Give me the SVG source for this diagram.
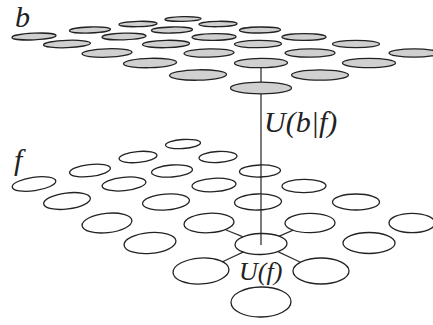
<svg xmlns="http://www.w3.org/2000/svg" width="433" height="325" viewBox="0 0 433 325">
  <style>
    .top ellipse { fill: #d0d0d0; stroke: #222; stroke-width: 1.3; }
    .bot ellipse { fill: none; stroke: #222; stroke-width: 1.3; }
    .link { stroke: #333; stroke-width: 1.3; fill: none; }
    .lbl { font-family: "Liberation Serif", "Times New Roman", serif; font-style: italic; fill: #222; }
  </style>
  <rect width="433" height="325" fill="#fff"/>

  <!-- connectors: vertical coupling and the in-layer neighbourhood spokes -->
  <g id="connectors" class="link">
    <line x1="261" y1="66" x2="261" y2="245"/>
    <line x1="226" y1="230" x2="242.6" y2="236.6"/>
    <line x1="293.2" y1="230.2" x2="278.8" y2="236.4"/>
    <line x1="222" y1="262" x2="243.6" y2="251.8"/>
    <line x1="300" y1="262" x2="278.4" y2="251.8"/>
  </g>

  <!-- upper layer b (grey), seen in perspective -->
  <g id="layer-b" class="top">
    <ellipse cx="183" cy="19" rx="18" ry="2.4" transform="rotate(-1.2 183 19)"/>
    <ellipse cx="138" cy="24" rx="19" ry="2.7" transform="rotate(-1.5 138 24)"/>
    <ellipse cx="218" cy="24" rx="19" ry="2.7" transform="rotate(-0.9 218 24)"/>
    <ellipse cx="90" cy="30" rx="20.5" ry="3" transform="rotate(-1.9 90 30)"/>
    <ellipse cx="172" cy="30" rx="20.5" ry="3" transform="rotate(-1.3 172 30)"/>
    <ellipse cx="260" cy="30" rx="20.5" ry="3" transform="rotate(-0.6 260 30)"/>
    <ellipse cx="34" cy="36.5" rx="22" ry="3.3" transform="rotate(-2.4 34 36.5)"/>
    <ellipse cx="124" cy="36.5" rx="22" ry="3.3" transform="rotate(-1.6 124 36.5)"/>
    <ellipse cx="214" cy="37" rx="22" ry="3.3" transform="rotate(-0.9 214 37)"/>
    <ellipse cx="304" cy="37" rx="22" ry="3.3" transform="rotate(-0.2 304 37)"/>
    <ellipse cx="67" cy="44" rx="23.5" ry="3.7" transform="rotate(-2.1 67 44)"/>
    <ellipse cx="166" cy="44" rx="23.5" ry="3.7" transform="rotate(-1.3 166 44)"/>
    <ellipse cx="258" cy="44" rx="23.5" ry="3.7" transform="rotate(-0.6 258 44)"/>
    <ellipse cx="356" cy="44" rx="23.5" ry="3.7"/>
    <ellipse cx="107" cy="53" rx="25" ry="4.2" transform="rotate(-1.8 107 53)"/>
    <ellipse cx="209" cy="53" rx="25" ry="4.2" transform="rotate(-1 209 53)"/>
    <ellipse cx="310" cy="53" rx="25" ry="4.2" transform="rotate(-0.2 310 53)"/>
    <ellipse cx="414" cy="53" rx="25" ry="4.2"/>
    <ellipse cx="150" cy="63" rx="26.5" ry="4.7" transform="rotate(-1.4 150 63)"/>
    <ellipse id="b-above" cx="261" cy="63" rx="26.5" ry="4.7" transform="rotate(-0.6 261 63)"/>
    <ellipse cx="369" cy="63" rx="26.5" ry="4.7"/>
    <ellipse cx="198" cy="75" rx="28.5" ry="5.2" transform="rotate(-1.1 198 75)"/>
    <ellipse cx="320" cy="75" rx="28.5" ry="5.2"/>
    <ellipse id="b-centre" cx="261" cy="88" rx="30.5" ry="5.8"/>
  </g>

  <!-- lower layer f (open), seen in perspective -->
  <g id="layer-f" class="bot">
    <ellipse cx="183" cy="144" rx="17.5" ry="4.5" transform="rotate(-4 183 144)"/>
    <ellipse cx="138" cy="157" rx="19" ry="5.5" transform="rotate(-5.2 138 157)"/>
    <ellipse cx="218" cy="157" rx="19" ry="5.5" transform="rotate(-3 218 157)"/>
    <ellipse cx="90" cy="170.5" rx="20.5" ry="6" transform="rotate(-6.5 90 170.5)"/>
    <ellipse cx="172" cy="171" rx="20.5" ry="6" transform="rotate(-4.3 172 171)"/>
    <ellipse cx="260" cy="171" rx="20.5" ry="6" transform="rotate(-1.9 260 171)"/>
    <ellipse cx="34" cy="184" rx="22" ry="6.7" transform="rotate(-8 34 184)"/>
    <ellipse cx="124" cy="184" rx="22" ry="6.7" transform="rotate(-5.6 124 184)"/>
    <ellipse cx="214" cy="185" rx="22" ry="6.7" transform="rotate(-3.1 214 185)"/>
    <ellipse cx="304" cy="186" rx="22" ry="6.7" transform="rotate(-0.7 304 186)"/>
    <ellipse cx="67" cy="201" rx="23.5" ry="8" transform="rotate(-7.1 67 201)"/>
    <ellipse cx="166" cy="202" rx="23.5" ry="8" transform="rotate(-4.4 166 202)"/>
    <ellipse cx="258" cy="202" rx="23.5" ry="8" transform="rotate(-1.9 258 202)"/>
    <ellipse cx="356" cy="202" rx="23.5" ry="8"/>
    <ellipse cx="107" cy="223" rx="25" ry="9.7" transform="rotate(-6 107 223)"/>
    <ellipse cx="209" cy="223" rx="25" ry="9.7" transform="rotate(-3.3 209 223)"/>
    <ellipse cx="310" cy="223" rx="25" ry="9.7" transform="rotate(-0.5 310 223)"/>
    <ellipse cx="412" cy="223" rx="23" ry="9.7"/>
    <ellipse cx="150" cy="243" rx="26" ry="10.5" transform="rotate(-4.9 150 243)"/>
    <ellipse id="f-centre" cx="261" cy="244" rx="26" ry="10.5" transform="rotate(-1.5 261 244)"/>
    <ellipse cx="369" cy="243" rx="26" ry="10.5"/>
    <ellipse cx="201" cy="271" rx="28" ry="13" transform="rotate(-3.5 201 271)"/>
    <ellipse cx="321" cy="271" rx="28" ry="13"/>
    <ellipse cx="261" cy="302" rx="30" ry="15" transform="rotate(-1 261 302)"/>
  </g>

  <!-- labels -->
  <g id="labels" class="lbl">
    <text x="15" y="27" font-size="30">b</text>
    <text x="14" y="170" font-size="30">f</text>
    <text x="264" y="132" font-size="30">U(b|f)</text>
    <text x="239" y="280" font-size="26">U(f)</text>
  </g>
</svg>
